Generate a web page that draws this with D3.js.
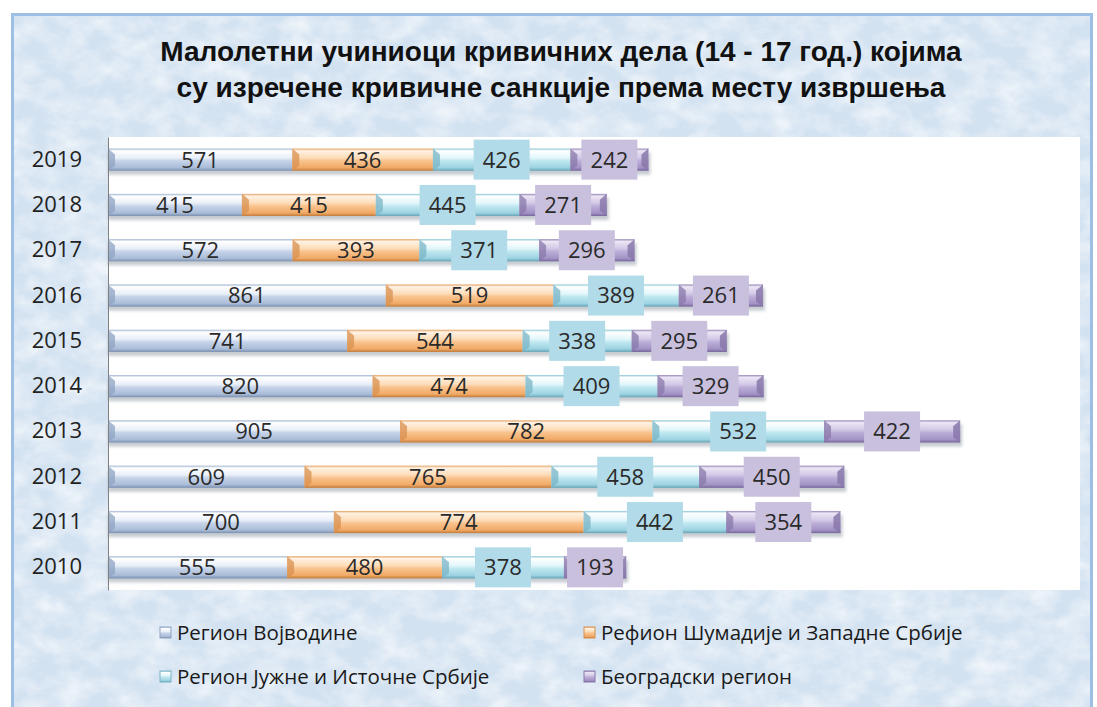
<!DOCTYPE html>
<html>
<head>
<meta charset="utf-8">
<script src="https://cdn.jsdelivr.net/npm/d3@7"></script>
<style>
  body { margin: 0; background: #fff; }
  svg { display: block; }
</style>
</head>
<body>
<svg></svg>
<script>
const width = 1097
const height = 707
const margin = { top: 137, right: 17, bottom: 117, left: 108 }

// подаци
const years = ['2019', '2018', '2017', '2016', '2015', '2014', '2013', '2012', '2011', '2010']
const vojvodina = [571, 415, 572, 861, 741, 820, 905, 609, 700, 555]
const sumadija = [436, 415, 393, 519, 544, 474, 782, 765, 774, 480]
const jug = [426, 445, 371, 389, 338, 409, 532, 458, 442, 378]
const beograd = [242, 271, 296, 261, 295, 329, 422, 450, 354, 193]
const seriesNames = ['Регион Војводине', 'Рефион Шумадије и Западне Србије', 'Регион Јужне и Источне Србије', 'Београдски регион']
const titleLines = ['Малолетни учиниоци кривичних дела (14 - 17 год.) којима', 'су изречене кривичне санкције према месту извршења']

const series = [vojvodina, sumadija, jug, beograd]

// боје: [горња ивица, светло, средина, доња половина, тамно, доња ивица]
const palette = [
  { stops: ['#9fb3d0', '#ffffff', '#e9eff8', '#c6d4e9', '#aabcd8', '#7b90b0'], bevel: '#8ea3c3', box: null },
  { stops: ['#e2a060', '#fff2e4', '#fddcb8', '#f9c38e', '#f1aa66', '#c07a3a'], bevel: '#d89050', box: null },
  { stops: ['#86c4d4', '#ffffff', '#e2f6fa', '#c0e8f0', '#9dd3e2', '#66a4b6'], bevel: '#78b4c6', box: '#b1dbe8' },
  { stops: ['#9484b4', '#ece6f5', '#d3c8e6', '#bcaed8', '#a393c6', '#75659a'], bevel: '#8878aa', box: '#c9c0de' }
]

const svg = d3.select('svg')
  .attr('width', width)
  .attr('height', height)
  .attr('viewBox', [0, 0, width, height])

const defs = svg.append('defs')

// текстура позадине
const tex = defs.append('filter').attr('id', 'paper').attr('x', 0).attr('y', 0).attr('width', '100%').attr('height', '100%')
tex.append('feTurbulence').attr('type', 'fractalNoise').attr('baseFrequency', '0.035 0.05').attr('numOctaves', 4).attr('seed', 7)
tex.append('feColorMatrix').attr('type', 'matrix')
  .attr('values', '0 0 0 0 1  0 0 0 0 1  0 0 0 0 1  1.6 0 0 0 -0.55')

const shadow = defs.append('filter').attr('id', 'shadow').attr('x', '-5%').attr('y', '-50%').attr('width', '110%').attr('height', '200%')
shadow.append('feGaussianBlur').attr('stdDeviation', 1.6)

palette.forEach((p, i) => {
  const g = defs.append('linearGradient').attr('id', 'grad' + i).attr('x1', 0).attr('x2', 0).attr('y1', 0).attr('y2', 1)
  const offs = [0, 0.1, 0.42, 0.55, 0.86, 1]
  offs.forEach((o, k) => g.append('stop').attr('offset', o).attr('stop-color', p.stops[k]))
})

// оквир и позадина
svg.append('rect').attr('x', 12).attr('y', 14).attr('width', 1080).attr('height', 700)
  .attr('fill', '#d3e2f1')
svg.append('rect').attr('x', 12).attr('y', 14).attr('width', 1080).attr('height', 700)
  .attr('filter', 'url(#paper)').attr('opacity', 0.75)
svg.append('rect').attr('x', 12.5).attr('y', 14.5).attr('width', 1079).attr('height', 699)
  .attr('fill', 'none').attr('stroke', '#9dbfe3').attr('stroke-width', 3)

// наслов
svg.append('g').selectAll('text')
  .data(titleLines)
  .join('text')
  .attr('x', 561)
  .attr('y', (d, i) => 61 + i * 36)
  .attr('text-anchor', 'middle')
  .attr('font-family', 'Liberation Sans, Arial, sans-serif')
  .attr('font-weight', 'bold')
  .attr('font-size', 28)
  .attr('fill', '#111')
  .text(d => d)

// површина графикона
const plotW = width - margin.left - margin.right
const plotH = height - margin.top - margin.bottom
svg.append('rect')
  .attr('x', margin.left).attr('y', margin.top)
  .attr('width', plotW).attr('height', plotH)
  .attr('fill', '#fff')

const x = d3.scaleLinear().domain([0, 3000]).range([margin.left, margin.left + 968])
const y = d3.scaleBand().domain(years).range([margin.top, margin.top + plotH]).paddingInner(0.51).paddingOuter(0.255)

const stacked = d3.stack().keys([0, 1, 2, 3]).value((d, k) => series[k][d])(d3.range(years.length))

const bh = y.bandwidth()

// сенке
svg.append('g').selectAll('rect')
  .data(years)
  .join('rect')
  .attr('x', d => x(0))
  .attr('y', d => y(d) + 4)
  .attr('width', (d, i) => x(stacked[3][i][1]) - x(0) + 2)
  .attr('height', bh)
  .attr('fill', '#9aa3ad')
  .attr('opacity', 0.55)
  .attr('filter', 'url(#shadow)')

// сегменти
stacked.forEach((layer, k) => {
  const g = svg.append('g')
  g.selectAll('rect')
    .data(layer)
    .join('rect')
    .attr('x', d => x(d[0]))
    .attr('y', (d, i) => y(years[i]))
    .attr('width', d => x(d[1]) - x(d[0]))
    .attr('height', bh)
    .attr('fill', `url(#grad${k})`)
  // лева косина
  g.selectAll('path.bev')
    .data(layer)
    .join('path')
    .attr('class', 'bev')
    .attr('d', (d, i) => {
      const x0 = x(d[0]), y0 = y(years[i]), y1 = y0 + bh
      return `M${x0},${y0}L${x0 + 7},${y0 + 6}L${x0 + 7},${y1 - 5}L${x0},${y1}Z`
    })
    .attr('fill', palette[k].bevel)
    .attr('opacity', 0.75)
  if (k === 3) {
    g.selectAll('path.end')
      .data(layer)
      .join('path')
      .attr('class', 'end')
      .attr('d', (d, i) => {
        const x1 = x(d[1]), y0 = y(years[i]), y1 = y0 + bh
        return `M${x1},${y0}L${x1 - 7},${y0 + 6}L${x1 - 7},${y1 - 5}L${x1},${y1}Z`
      })
      .attr('fill', palette[k].bevel)
      .attr('opacity', 0.85)
  }
})

// ознаке вредности
stacked.forEach((layer, k) => {
  const g = svg.append('g')
  const cells = g.selectAll('g')
    .data(layer)
    .join('g')
    .attr('transform', (d, i) => `translate(${(x(d[0]) + x(d[1])) / 2},${y(years[i]) + bh / 2})`)
  if (palette[k].box) {
    cells.append('rect')
      .attr('x', -28).attr('y', -20)
      .attr('width', 56).attr('height', 40)
      .attr('fill', palette[k].box)
  }
  cells.append('text')
    .attr('text-anchor', 'middle')
    .attr('dy', '0.36em')
    .attr('font-family', 'Open Sans, sans-serif')
    .attr('font-size', 22)
    .attr('fill', '#2a2a2a')
    .text((d, i) => series[k][i])
})

// оса Y
svg.append('g')
  .attr('transform', `translate(${margin.left},0)`)
  .call(d3.axisLeft(y).tickSize(0).tickPadding(26))
  .call(g => g.select('.domain').attr('stroke', '#808080'))
  .call(g => g.selectAll('text')
    .attr('font-family', 'Open Sans, sans-serif')
    .attr('font-size', 22)
    .attr('fill', '#222'))

// легенда
const legend = svg.append('g')
  .selectAll('g')
  .data(seriesNames)
  .join('g')
  .attr('transform', (d, i) => `translate(${i % 2 === 0 ? 160 : 584},${i < 2 ? 633 : 677})`)

legend.append('rect')
  .attr('x', 0).attr('y', -6)
  .attr('width', 11).attr('height', 11)
  .attr('fill', (d, i) => `url(#grad${i})`)
  .attr('stroke', (d, i) => palette[i].bevel)
  .attr('stroke-width', 1)

legend.append('text')
  .attr('x', 17)
  .attr('dy', '0.35em')
  .attr('font-family', 'Open Sans, sans-serif')
  .attr('font-size', 20.5)
  .attr('fill', '#1a1a1a')
  .text(d => d)
</script>
</body>
</html>
